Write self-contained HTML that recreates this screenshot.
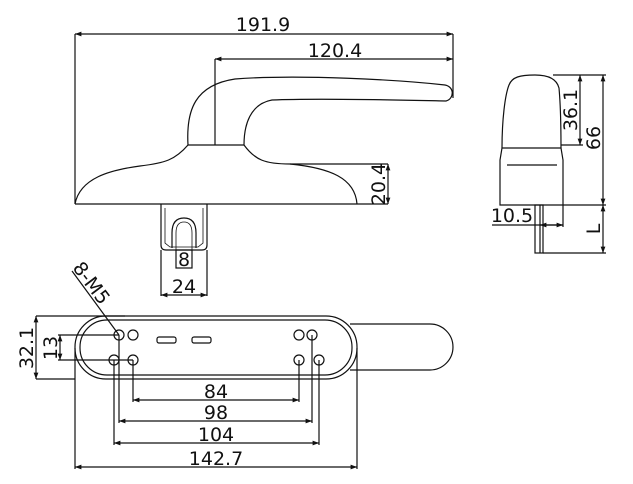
<!DOCTYPE html>
<html><head><meta charset="utf-8"><style>
html,body{margin:0;padding:0;background:#fff}
svg{display:block}
text{font-family:"DejaVu Sans","Liberation Sans",sans-serif;fill:#111}
</style></head><body>
<svg width="633" height="484" viewBox="0 0 633 484" xmlns="http://www.w3.org/2000/svg">
<defs><marker id="a" viewBox="0 0 8 6" refX="8" refY="3" markerWidth="6" markerHeight="4" orient="auto-start-reverse"><path d="M0,0L8,3L0,6z" fill="#111"/></marker></defs>
<g fill="none" stroke="#111" stroke-width="1.2">
<!-- top view -->
<line x1="75" y1="34" x2="75" y2="204"/>
<line x1="75" y1="34" x2="453" y2="34" marker-start="url(#a)" marker-end="url(#a)"/>
<line x1="453" y1="34" x2="453" y2="98"/>
<line x1="215" y1="59" x2="215" y2="145"/>
<line x1="215" y1="59" x2="453" y2="59" marker-start="url(#a)" marker-end="url(#a)"/>
<path d="M188,145 C186,110 195,85 235,79 C300,74 400,80 445,85 C455,87 454,99 446,101 C400,100 320,98 272,100 C250,104 244,125 244,145"/>
<line x1="188" y1="145" x2="244" y2="145"/>
<path d="M188,145 C175,160 165,163 140,166 C110,170 80,178 75,204"/>
<path d="M244,145 C255,160 265,164 290,164 L388,164"/>
<path d="M290,164 C330,168 355,178 357,204"/>
<line x1="75" y1="204" x2="388" y2="204"/>
<line x1="388" y1="164" x2="388" y2="204" marker-start="url(#a)" marker-end="url(#a)"/>
<!-- stem -->
<path d="M161,204 L161,245 Q161,250 166,250 L202,250 Q207,250 207,245 L207,204"/>
<path d="M165,208 L165,243 L170,247 L198,247 L203,243 L203,208" stroke-width="0.8"/>
<path d="M172,248 L172,233 Q172,218 184,218 Q196,218 196,233 L196,248" />
<path d="M176,250 L176,233 Q176,222 184,222 Q192,222 192,233 L192,250" stroke-width="0.8"/>
<rect x="176" y="250" width="16" height="18"/>
<line x1="161" y1="250" x2="161" y2="296"/>
<line x1="207" y1="250" x2="207" y2="296"/>
<line x1="161" y1="295" x2="207" y2="295" marker-start="url(#a)" marker-end="url(#a)"/>
<!-- side view -->
<path d="M502,148 C502,120 505,95 509,85 C512,77 520,75 535,75 C550,75 557,80 559,88 C561,110 561,130 561,148"/>
<path d="M502,148 L500,160 L500,205 L563,205 L563,160 L561,148 Z"/>
<line x1="507" y1="165" x2="557" y2="165"/>
<rect x="535" y="205" width="8" height="48"/>
<line x1="540" y1="205" x2="540" y2="253"/>
<line x1="553" y1="75" x2="606" y2="75"/>
<line x1="561" y1="145" x2="583" y2="145"/>
<line x1="580" y1="75" x2="580" y2="145" marker-start="url(#a)" marker-end="url(#a)"/>
<line x1="563" y1="205" x2="606" y2="205"/>
<line x1="543" y1="253" x2="606" y2="253"/>
<line x1="603" y1="75" x2="603" y2="205" marker-start="url(#a)" marker-end="url(#a)"/>
<line x1="603" y1="205" x2="603" y2="253" marker-start="url(#a)" marker-end="url(#a)"/>
<line x1="563" y1="205" x2="563" y2="227"/>
<line x1="492" y1="225" x2="563" y2="225"/>
<line x1="540" y1="225" x2="563" y2="225" marker-start="url(#a)" marker-end="url(#a)"/>
<!-- bottom view -->
<rect x="75" y="316" width="282" height="63" rx="31"/>
<rect x="80" y="320" width="272" height="55" rx="27"/>
<path d="M350,324 L430,324 A23,23 0 0 1 430,370 L350,370"/>
<circle cx="119" cy="335" r="5"/><circle cx="133" cy="335" r="5"/>
<circle cx="299" cy="335" r="5"/><circle cx="312" cy="335" r="5"/>
<circle cx="114" cy="360" r="5"/><circle cx="133" cy="360" r="5"/>
<circle cx="299" cy="360" r="5"/><circle cx="319" cy="360" r="5"/>
<rect x="157" y="337" width="19" height="6" rx="2"/>
<rect x="192" y="337" width="19" height="6" rx="2"/>
<line x1="72" y1="271" x2="119" y2="335"/>
<line x1="36" y1="316" x2="125" y2="316"/>
<line x1="36" y1="379" x2="75" y2="379"/>
<line x1="36" y1="316" x2="36" y2="379" marker-start="url(#a)" marker-end="url(#a)"/>
<line x1="58" y1="335" x2="119" y2="335"/>
<line x1="58" y1="360" x2="133" y2="360"/>
<line x1="60" y1="335" x2="60" y2="360" marker-start="url(#a)" marker-end="url(#a)"/>
<line x1="133" y1="360" x2="133" y2="402"/><line x1="299" y1="360" x2="299" y2="402"/>
<line x1="133" y1="400" x2="299" y2="400" marker-start="url(#a)" marker-end="url(#a)"/>
<line x1="119" y1="335" x2="119" y2="423"/><line x1="312" y1="335" x2="312" y2="423"/>
<line x1="119" y1="421" x2="312" y2="421" marker-start="url(#a)" marker-end="url(#a)"/>
<line x1="114" y1="360" x2="114" y2="445"/><line x1="319" y1="360" x2="319" y2="445"/>
<line x1="114" y1="443" x2="319" y2="443" marker-start="url(#a)" marker-end="url(#a)"/>
<line x1="75" y1="348" x2="75" y2="469"/><line x1="357" y1="348" x2="357" y2="469"/>
<line x1="75" y1="467" x2="357" y2="467" marker-start="url(#a)" marker-end="url(#a)"/>
</g>
<g font-size="19">
<text x="263" y="31" text-anchor="middle">191.9</text>
<text x="335" y="57" text-anchor="middle">120.4</text>
<text transform="translate(385,184) rotate(-90)" text-anchor="middle">20.4</text>
<text x="184" y="266" text-anchor="middle">8</text>
<text x="184" y="293" text-anchor="middle">24</text>
<text transform="translate(577,110) rotate(-90)" text-anchor="middle">36.1</text>
<text transform="translate(600,138) rotate(-90)" text-anchor="middle">66</text>
<text transform="translate(600,229) rotate(-90)" text-anchor="middle">L</text>
<text x="512" y="222" text-anchor="middle">10.5</text>
<text transform="translate(33,348) rotate(-90)" text-anchor="middle">32.1</text>
<text transform="translate(57,348) rotate(-90)" text-anchor="middle">13</text>
<text transform="translate(72,268) rotate(53)">8-M5</text>
<text x="216" y="398" text-anchor="middle">84</text>
<text x="216" y="419" text-anchor="middle">98</text>
<text x="216" y="441" text-anchor="middle">104</text>
<text x="216" y="465" text-anchor="middle">142.7</text>
</g>
</svg>
</body></html>
